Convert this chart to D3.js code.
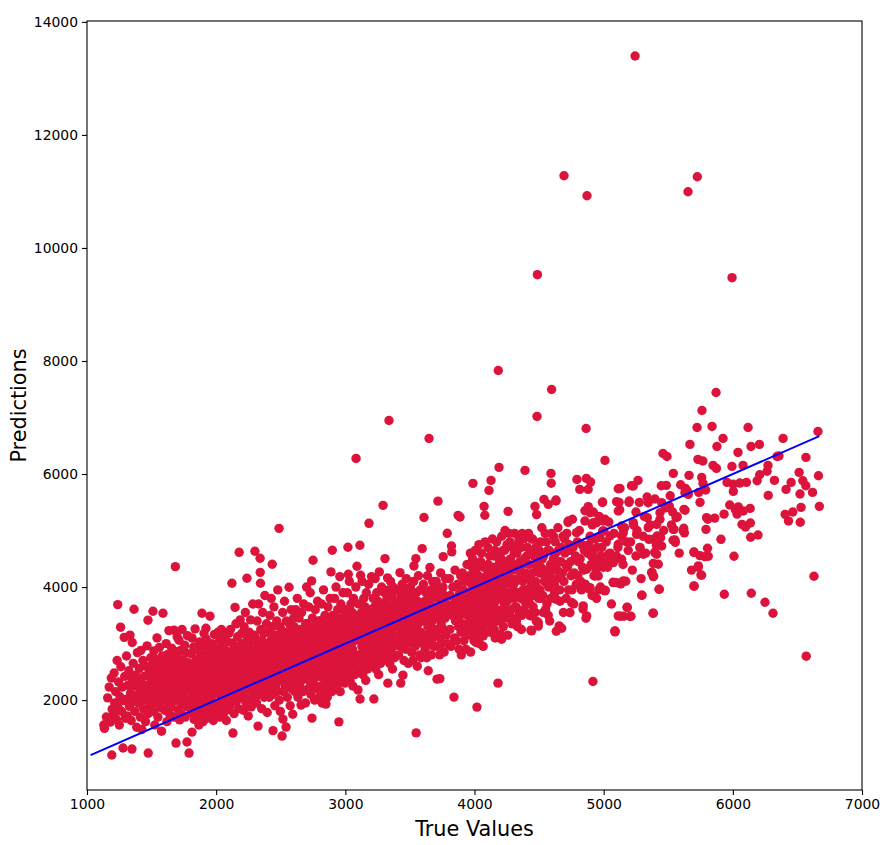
<!DOCTYPE html>
<html>
<head>
<meta charset="utf-8">
<script src="https://cdn.jsdelivr.net/npm/d3@7"></script>
<style>
  html, body { margin: 0; padding: 0; background: #fff; }
  svg { display: block; }
</style>
</head>
<body>
<div id="chart"></div>
<script>
(function(){
'use strict';
/* globals d3 */

// [true value, prediction] pairs, grouped by true value range
var pts1100 = [
    [1130,1560],[1135,1500],[1150,1700],[1160,2040],[1172,2230],[1180,1610],[1188,2390],[1192,1028],[1195,1840],
    [1205,1750],[1210,2480],[1215,1950],[1222,2150],[1228,1660],[1233,2700],[1238,3690],[1240,1870],[1245,2320],
    [1250,1560],[1255,2060],[1260,3290],[1262,2590],[1268,1800],[1272,2230],[1279,1152],[1283,1990],[1288,3110],
    [1292,2420],[1297,1680],
    [1302,2010],[1306,2780],[1311,1720],[1316,2260],[1324,2520],[1329,1890],[1333,3150],[1337,2120],[1342,1640],
    [1346,2390],[1348,1134],[1350,3020],[1354,1970],[1358,2650],[1362,2250],[1364,3608],[1370,1800],[1375,2440],
    [1380,2080],[1385,1520],[1390,2840],[1396,2330],
    [1402,1940],[1405,2560],[1409,2180],[1413,1700],[1417,2880],[1421,2310],[1425,1480],[1429,2050],[1433,2700],
    [1437,1850],[1441,2420],[1445,2140],[1449,2140],[1453,1620],[1457,2600],[1461,2000],[1465,2960],[1469,2260],
    [1472,3414],[1473,1760],[1474,1063],[1481,2500],[1485,2090],[1489,1900],[1493,2750],[1497,2360]
];

var pts1500 = [
    [1501,2040],[1507,2620],[1511,3573],[1511,2230],[1514,1800],[1518,2870],[1521,2420],[1525,1560],[1528,2150],
    [1532,2720],[1535,1950],[1539,2500],[1542,3100],[1546,2300],[1549,1700],[1553,2640],[1556,2080],[1560,2930],
    [1563,2380],[1567,1870],[1570,2560],[1574,2200],[1577,1450],[1581,2780],[1584,2010],[1588,3537],[1591,2460],
    [1595,2150],
    [1601,1820],[1604,2690],[1607,2330],[1610,2050],[1613,3000],[1616,2480],[1619,1620],[1622,2210],[1625,2810],
    [1628,1950],[1631,2580],[1634,3230],[1637,2380],[1640,1750],[1643,2120],[1646,2740],[1649,2260],[1652,1880],
    [1655,2920],[1658,2520],[1664,2030],[1667,2650],[1670,2180],[1673,1700],[1674,3237],[1676,2430],[1684,4361],
    [1683,2860],[1686,1990],[1689,1240],[1690,2560],[1694,2290],[1698,3120],
    [1701,2100],[1704,2750],[1706,1830],[1709,2450],[1712,3060],[1714,2250],[1717,1650],[1720,2620],[1722,2000],
    [1725,2880],[1728,2370],[1730,1760],[1733,2540],[1736,3250],[1738,2150],[1741,1920],[1744,2700],[1746,2310],
    [1752,2480],[1754,2060],[1757,2970],[1760,1700],[1762,2600],[1765,2200],[1768,2830],[1773,2420],[1774,1258],
    [1776,1880],[1778,3140],[1781,2280],[1784,2660],[1787,2020],[1790,1063],[1795,2520],
    [1802,2180],[1805,2820],[1807,1780],[1810,2450],[1813,1434],[1813,3100],[1815,2300],[1818,1950],[1821,2640],
    [1823,2080],[1826,2940],[1829,1660],[1831,2530],[1834,2230],[1837,3260],[1839,2380],[1842,1870],[1845,2720],
    [1847,2130],[1850,2580],[1853,1720],[1855,2890],[1858,2340],[1861,2010],[1863,2670],[1866,1560],[1869,2470],
    [1871,3030],[1874,2200],[1877,1920],[1879,2780],[1882,2400],[1890,3537],[1887,2100],[1890,2620],[1893,1820],
    [1895,2950],[1897,2270],[1899,1620],
    [1901,2550],[1903,2050],[1906,3180],[1908,2320],[1911,1750],[1913,2800],[1916,2180],[1918,2650],[1921,3272],
    [1921,1920],[1923,3080],[1926,2420],[1928,1680],[1931,2720],[1933,2260],[1936,2950],[1938,2040],[1941,2500],
    [1943,1820],[1946,2880],[1948,2370],[1952,3485],[1951,2610],[1956,2130],[1958,2860],[1961,1720],[1963,2460],
    [1966,2230],[1968,3000],[1971,1960],[1973,2580],[1976,2340],[1978,1640],[1981,2760],[1983,2100],[1986,3160],
    [1988,2480],[1991,1870],[1993,2680],[1996,2200],[1998,2900]
];

var pts2000 = [
    [2001,2350],[2004,2900],[2006,1800],[2009,2600],[2011,2150],[2014,3200],[2016,2450],[2019,1950],[2021,2750],
    [2024,2280],[2026,3050],[2029,1700],[2031,2520],[2034,2080],[2036,2850],[2039,2400],[2041,3250],[2044,1880],
    [2046,2680],[2049,2220],[2051,2960],[2054,2500],[2056,1760],[2059,2780],[2061,2130],[2064,3150],[2066,2340],
    [2069,2620],[2071,1990],[2074,2880],[2076,2460],[2079,1640],[2081,2720],[2084,2200],[2086,3030],[2089,2560],
    [2091,1830],[2094,2400],[2099,3184],[2099,2650],
    [2101,2280],[2103,2850],[2106,1900],[2108,2600],[2111,3250],[2113,2420],[2116,2050],[2118,2730],[2122,4067],
    [2124,2180],[2126,3010],[2128,2500],[2130,1417],[2133,2790],[2135,2340],[2138,1760],[2140,2920],[2143,2560],
    [2146,3640],[2148,2120],[2151,2680],[2153,3350],[2156,2410],[2158,1980],[2161,2840],[2163,2250],[2166,3120],
    [2168,2620],[2171,1850],[2173,2470],[2176,2960],[2178,4615],[2181,2200],[2183,2760],[2186,3420],[2188,2360],
    [2191,2040],[2193,2900],[2196,2530],[2198,3180],
    [2201,2450],[2203,3000],[2206,2080],[2208,2700],[2211,1820],[2213,2560],[2216,3300],[2218,2300],[2221,2850],
    [2223,2150],[2226,3550],[2228,2620],[2231,1950],[2233,2780],[2236,2400],[2238,4156],[2241,3080],[2243,2230],
    [2246,2680],[2248,1720],[2251,2950],[2253,2500],[2256,3200],[2258,2020],[2261,2740],[2263,2350],[2266,3420],
    [2268,2600],[2271,1880],[2273,2880],[2276,2180],[2278,3050],[2281,2520],[2283,3700],[2286,2280],[2288,2820],
    [2291,2070],[2293,2650],[2296,3150],[2298,2420],
    [2300,4633],[2302,2550],[2304,3100],[2307,2200],[2309,2800],[2312,1950],[2314,2650],[2317,3400],[2319,2400],
    [2322,2950],[2324,1540],[2326,2300],[2329,3700],[2331,2720],[2334,2100],[2336,2880],[2338,2500],[2340,4509],
    [2341,4260],[2343,4067],[2345,3250],[2347,2350],[2350,2780],[2352,1850],[2355,3050],[2357,2600],[2360,3550],
    [2362,2250],[2365,2900],[2367,2450],[2370,3180],[2372,2050],[2375,2700],[2377,3850],[2380,2380],[2382,2980],
    [2385,2150],[2387,2620],[2390,3350],[2392,2800],[2395,1780],[2398,2520],
    [2401,2650],[2403,3200],[2406,2300],[2408,2900],[2411,2050],[2413,2750],[2416,3500],[2418,2450],[2421,3050],
    [2423,2200],[2426,3800],[2428,2800],[2431,2550],[2434,4403],[2436,3300],[2438,2100],[2440,1460],[2442,2950],
    [2444,2650],[2447,3650],[2449,2350],[2452,2850],[2454,1900],[2457,3150],[2459,2700],[2462,2250],[2464,3000],
    [2467,2500],[2469,3400],[2472,2150],[2474,2800],[2477,3950],[2479,2400],[2482,3100],[2484,2600],[2487,5039],
    [2489,2000],[2491,2900],[2493,3300],[2495,2550],[2497,1800],[2499,2750]
];

var pts2500 = [
    [2501,2700],[2503,3250],[2506,2350],[2508,2950],[2510,1364],[2512,2600],[2515,3550],[2517,1664],[2519,2850],
    [2521,2150],[2524,3100],[2526,2500],[2529,3750],[2531,2750],[2534,2250],[2536,3000],[2539,2650],[2541,1523],
    [2543,3400],[2546,2400],[2548,2900],[2551,2050],[2553,3200],[2556,2800],[2558,2300],[2561,3050],[2564,3997],
    [2566,2550],[2568,3350],[2571,2700],[2573,1900],[2576,2950],[2578,2450],[2581,3600],[2583,2850],[2586,2200],
    [2588,3150],[2591,2600],[2593,1750],[2595,3000],[2597,2400],[2599,3450],
    [2601,2750],[2603,3300],[2606,2400],[2608,3000],[2611,2150],[2613,2650],[2616,3600],[2618,2900],[2621,2300],
    [2623,3150],[2626,2550],[2628,3800],[2631,2800],[2633,2050],[2636,3050],[2638,2450],[2641,3450],[2643,2700],
    [2646,2250],[2648,2950],[2651,3250],[2653,2600],[2657,1912],[2658,2850],[2661,3550],[2663,2350],[2666,3100],
    [2668,2750],[2671,2150],[2673,3000],[2676,2500],[2678,3700],[2681,2900],[2683,2400],[2686,3200],[2688,2650],
    [2691,1950],[2693,3350],[2695,2800],[2697,2550],[2699,3050],[2700,4000],
    [2701,2800],[2703,3350],[2706,2450],[2708,3050],[2711,2200],[2713,2700],[2716,3650],[2718,2950],[2721,2350],
    [2723,3200],[2726,2600],[2728,3900],[2731,2850],[2733,2100],[2736,3100],[2739,4109],[2742,1682],[2742,2500],
    [2745,3450],[2747,2750],[2750,4474],[2752,2300],[2755,3000],[2757,3300],[2760,2650],[2762,2000],[2765,2900],
    [2767,3600],[2770,2400],[2772,3150],[2775,2800],[2777,2200],[2780,3050],[2782,2550],[2785,3750],[2787,2950],
    [2790,2450],[2792,3250],[2795,2700],[2797,2050],[2799,3400],[2798,2850],
    [2801,2850],[2803,3400],[2806,2500],[2808,3100],[2811,2250],[2813,2750],[2816,3700],[2818,3000],[2821,1947],
    [2823,2400],[2826,3250],[2828,2650],[2831,3950],[2833,2900],[2836,2150],[2838,3150],[2841,2550],[2843,3500],
    [2846,2800],[2848,2350],[2850,1930],[2852,3050],[2855,3350],[2857,2700],[2860,2050],[2862,2950],[2865,3650],
    [2867,2450],[2870,3200],[2872,2850],[2875,2250],[2877,3100],[2880,2600],[2882,3800],[2885,3000],[2887,2500],
    [2889,4268],[2891,3300],[2893,2750],[2895,2150],[2897,3450],[2899,4651],
    [2901,2950],[2903,3500],[2906,2600],[2908,3200],[2911,2350],[2913,2850],[2916,3800],[2918,3100],[2921,2500],
    [2923,3350],[2926,2750],[2928,4000],[2931,3000],[2933,2250],[2936,3250],[2938,2650],[2941,3600],[2943,2900],
    [2946,2450],[2948,3150],[2950,1615],[2952,3450],[2955,2800],[2957,4185],[2960,2150],[2962,3050],[2965,3700],
    [2967,2550],[2970,3300],[2972,2950],[2975,2350],[2977,3200],[2980,2700],[2982,3900],[2985,3100],[2987,2600],
    [2990,3400],[2992,2850],[2995,2300],[2998,3550]
];

var pts3000 = [
    [3001,3050],[3003,3600],[3006,2700],[3008,3300],[3011,2450],[3013,2950],[3016,3900],[3018,3200],[3020,4704],
    [3022,2600],[3023,4227],[3026,3450],[3028,2850],[3031,4100],[3033,3100],[3036,2350],[3038,3350],[3041,2750],
    [3043,3700],[3046,3000],[3048,2550],[3051,3250],[3053,3550],[3056,2900],[3058,2250],[3061,3150],[3063,3800],
    [3066,2650],[3068,3400],[3071,3050],[3073,2450],[3076,3300],[3078,2800],[3081,4000],[3083,6276],[3086,3200],
    [3088,2700],[3090,4368],[3094,3500],[3098,2180],
    [3101,3150],[3103,3700],[3106,2800],[3108,3400],[3111,2550],[3113,4739],[3114,2020],[3116,3050],[3118,4209],
    [3120,3300],[3123,2700],[3125,3550],[3128,2950],[3130,4100],[3133,3200],[3135,2450],[3138,3450],[3140,2850],
    [3143,3800],[3145,3100],[3148,2650],[3150,3350],[3153,3650],[3155,3000],[3158,2350],[3160,3250],[3163,3900],
    [3165,2750],[3168,3500],[3170,3150],[3173,2550],[3175,3400],[3178,2900],[3180,4050],[3183,5128],[3186,3300],
    [3188,2800],[3190,3600],[3193,3050],[3197,2650],
    [3201,3250],[3203,4185],[3206,2900],[3208,3500],[3211,2650],[3213,3150],[3216,3800],[3218,3400],[3221,2020],
    [3223,2800],[3226,3650],[3228,3050],[3231,4150],[3233,3300],[3236,2550],[3238,3550],[3241,2950],[3243,3900],
    [3246,3200],[3248,2750],[3251,3450],[3253,3750],[3256,3100],[3258,2450],[3261,3350],[3263,4268],[3266,2850],
    [3268,3600],[3271,3250],[3273,2650],[3276,3500],[3278,3000],[3281,4000],[3283,3400],[3286,2900],[3290,3700],
    [3292,5446],[3296,3150],
    [3301,3350],[3303,3900],[3306,3000],[3307,4504],[3309,3600],[3311,2750],[3314,3250],[3316,3700],[3318,3450],
    [3321,2900],[3323,3800],[3326,3150],[3327,4162],[3329,2300],[3331,3550],[3333,3000],[3336,3950],[3338,6948],
    [3340,3350],[3343,2650],[3345,3650],[3348,3100],[3350,4100],[3353,3300],[3355,2850],[3358,3500],[3360,3850],
    [3363,3200],[3365,2550],[3368,3450],[3370,4000],[3373,2950],[3375,3600],[3378,3300],[3381,2750],[3385,3750],
    [3390,3100],[3396,3500],
    [3401,3400],[3404,3950],[3407,3050],[3409,3650],[3412,2800],[3415,3300],[3418,3750],[3420,3500],[3423,4256],
    [3426,2950],[3429,2300],[3431,3850],[3434,3200],[3437,3600],[3440,4050],[3443,3400],[3446,2442],[3448,3700],
    [3451,3100],[3454,2700],[3457,3550],[3460,3900],[3463,3300],[3466,2900],[3469,3650],[3472,4150],[3475,3000],
    [3478,3450],[3481,3800],[3484,3250],[3487,2650],[3490,3550],[3493,3950],[3496,3150],[3499,3700]
];

var pts3500 = [
    [3501,3450],[3504,4000],[3507,3100],[3509,3700],[3512,2850],[3515,3350],[3518,3800],[3520,3550],[3523,2700],
    [3526,3000],[3529,4100],[3531,4374],[3534,3250],[3537,3650],[3540,2950],[3543,3450],[3546,4504],[3548,1420],
    [3551,3900],[3554,3150],[3557,2600],[3560,3750],[3563,3350],[3566,4200],[3569,3050],[3572,3600],[3575,2800],
    [3578,3500],[3581,3950],[3584,3200],[3587,2750],[3590,3700],[3593,3400],[3595,4680],[3598,3000],
    [3601,3500],[3605,4050],[3609,5230],[3612,3150],[3615,3750],[3618,2900],[3621,3400],[3624,3900],[3627,3600],
    [3630,2750],[3633,3050],[3636,4200],[3639,3300],[3642,2520],[3645,3700],[3648,6629],[3651,3000],[3655,4345],
    [3658,3500],[3661,3950],[3664,3200],[3667,2800],[3670,3800],[3673,3400],[3676,4100],[3679,3100],[3682,3650],
    [3685,2950],[3688,3550],[3691,4000],[3694,3250],[3698,3850],
    [3701,3550],[3704,4100],[3707,3200],[3710,2371],[3713,3800],[3716,2950],[3717,5520],[3720,3450],[3723,3950],
    [3727,3650],[3730,2800],[3732,2380],[3735,3100],[3738,4250],[3742,3350],[3745,3750],[3749,3000],[3752,3550],
    [3756,4000],[3758,4539],[3762,3250],[3765,2850],[3769,3850],[3772,3450],[3776,4150],[3780,3150],[3784,3700],
    [3789,4951],[3793,3000],[3797,3600],
    [3802,3600],[3806,4150],[3810,3250],[3814,3850],[3818,2950],[3822,4727],[3824,4622],[3828,3500],[3832,4000],
    [3836,3700],[3841,2053],[3845,3100],[3849,4300],[3853,3400],[3857,3800],[3861,3050],[3865,3600],[3869,4050],
    [3873,5269],[3877,3300],[3881,2900],[3885,3900],[3888,5240],[3889,3500],[3893,4200],[3896,3200],[3899,3750],
    [3898,2800],
    [3902,3700],[3906,4250],[3910,3350],[3914,3950],[3918,3050],[3922,3600],[3926,4100],[3930,3800],[3934,2900],
    [3938,3250],[3942,4400],[3946,3500],[3950,3900],[3954,3150],[3958,3700],[3962,4200],[3966,3400],[3970,2850],
    [3974,3850],[3978,3550],[3982,4350],[3986,3250],[3988,5834],[3992,3750],[3996,3050],[3999,4050],
    [3965,3314],[3968,4600],[3972,3300],[3976,4050],[3981,3650],[3985,4500],[3991,3900],[3995,3450]
];

var pts4000 = [
    [4003,3800],[4007,4300],[4011,3400],[4015,4000],[4019,1876],[4023,3150],[4027,3650],[4031,4200],[4035,3900],
    [4039,3000],[4043,3500],[4047,4450],[4051,3700],[4055,3300],[4059,4050],[4063,3600],[4067,2950],[4071,4150],
    [4074,5428],[4078,3850],[4080,5270],[4085,3400],[4090,4350],[4096,3750],
    [4102,3900],[4106,4400],[4110,3500],[4112,5710],[4115,4100],[4120,3200],[4124,3750],[4128,5887],[4132,4300],
    [4137,3950],[4141,3350],[4146,3650],[4150,4550],[4155,3850],[4160,3100],[4164,4200],[4169,3600],[4173,4000],
    [4178,3400],[4182,2300],[4184,7831],[4190,6117],[4194,4450],[4198,3800],
    [4203,4000],[4208,4500],[4213,3600],[4218,4200],[4223,3300],[4228,3850],[4233,4650],[4238,4050],[4243,3450],
    [4248,4300],[4253,3750],[4258,3150],[4260,5340],[4265,4100],[4270,3550],[4275,4800],[4280,3900],[4285,4400],
    [4290,3350],[4296,4000],
    [4303,4050],[4308,4600],[4314,3650],[4319,4300],[4325,3400],[4330,3900],[4336,4750],[4341,4150],[4347,3550],
    [4352,4450],[4358,3800],[4363,3250],[4369,4950],[4374,4100],[4380,3600],[4385,4500],[4391,6064],[4396,3950],
    [4403,4150],[4409,4700],[4415,3750],[4421,4400],[4428,3500],[4434,4000],[4437,3237],[4442,4850],[4448,4250],
    [4454,3650],[4460,4550],[4466,3900],[4468,5428],[4472,4100],[4478,3400],[4481,5282],[4484,7019],[4487,9527],
    [4491,4650],[4494,3310],[4497,4300]
];

// the thick part of the cloud between 4000 and 4600
var pts4000dense = [
    [4005,4650],[4009,3550],[4011,3019],[4013,4150],[4018,3850],[4024,4400],[4029,3300],[4034,4750],[4038,3750],
    [4044,4100],[4049,3450],[4054,4600],[4058,3950],[4064,3250],[4068,3137],[4069,4350],[4076,3700],[4082,4800],
    [4087,3550],[4093,4200],[4098,3900],
    [4104,4700],[4108,3350],[4113,4000],[4118,4550],[4122,3600],[4127,4250],[4133,3450],[4139,4850],[4144,3900],
    [4148,4350],[4153,3250],[4158,4650],[4163,3750],[4167,4100],[4172,4800],[4176,3500],[4180,4300],[4186,3950],
    [4192,4600],[4197,3550],
    [4201,4350],[4202,3166],[4206,3800],[4210,3078],[4211,4900],[4216,3450],[4221,4650],[4226,4100],[4231,3700],
    [4236,5000],[4241,4400],[4246,3900],[4251,4750],[4256,3550],[4262,4250],[4267,4950],[4272,3800],[4278,4500],
    [4283,3600],[4288,4150],[4293,4700],[4298,3450],
    [4302,4400],[4306,3800],[4311,4950],[4317,4100],[4322,3650],[4328,4600],[4333,3300],[4339,4300],[4344,4850],
    [4350,3900],[4355,4150],[4361,4700],[4366,3500],[4371,4400],[4377,3950],[4382,4850],[4388,3750],[4393,4250],
    [4398,3550],
    [4405,4550],[4411,3900],[4418,4950],[4424,4200],[4430,3700],[4435,3490],[4436,4650],[4442,3225],[4444,4050],
    [4450,4850],[4457,3850],[4463,4400],[4469,3550],[4475,4700],[4480,4000],[4489,4500],[4494,3373],[4496,3800],
    [4502,4650],[4507,3950],[4514,4350],[4521,5050],[4528,3850],[4535,4550],[4543,4200],[4550,3600],[4557,4800],
    [4564,4050],[4571,5463],[4571,3500],[4578,4650],[4585,4250],[4591,3800],[4596,4950]
];

var pts4500 = [
    [4504,4250],[4511,4800],[4518,3800],[4525,4500],[4532,3550],[4538,5552],[4540,4100],[4547,4950],[4554,4300],
    [4561,3700],[4568,4650],[4575,4000],[4582,3400],[4589,4400],[4592,6011],[4594,5836],[4597,7495],[4598,4150],
    [4604,4350],[4612,4900],[4620,3900],[4628,4600],[4630,5540],[4633,3219],[4638,4150],[4646,5050],[4654,4450],
    [4662,3750],[4670,4700],[4675,3272],[4680,4250],[4688,3550],[4693,11277],[4697,4850],
    [4705,4400],[4715,4950],[4724,5145],[4728,3950],[4738,4650],[4748,4200],[4758,5200],[4768,3700],[4778,4500],
    [4788,4050],[4793,5905],[4796,4800],
    [4805,4450],[4812,5000],[4815,5728],[4822,4100],[4832,4750],[4840,3613],[4845,4300],[4855,5350],[4863,3449],
    [4864,6806],[4866,5923],[4871,10923],[4875,4600],[4880,5728],[4888,3967],[4895,4900],
    [4905,4550],[4912,5100],[4917,2330],[4925,4200],[4935,4850],[4945,3800],[4955,4400],[4965,5250],[4975,4000],
    [4985,4700],[4990,5499],[4996,4350]
];

// the looser part of the cloud between 4600 and 5800
var pts4600dense = [
    [4610,4500],[4618,4050],[4625,4800],[4631,5522],[4631,3785],[4642,4300],[4650,4650],[4656,3314],[4660,3950],
    [4668,4450],[4685,4900],[4692,4100],[4700,4600],[4710,3800],[4720,4350],[4726,5169],[4733,4750],[4739,3549],
    [4745,4450],[4752,3726],[4755,3950],[4763,4700],[4772,4250],[4783,4550],[4790,4963],[4800,4200],[4818,4500],
    [4828,3950],[4836,4350],[4842,4727],[4842,3667],[4850,4650],[4855,5169],[4858,4050],[4868,4315],[4868,3490],
    [4881,5422],[4881,3991],[4885,4750],[4894,5316],[4894,4610],[4894,3991],[4899,5858],
    [4902,4400],[4910,3850],[4920,5328],[4920,5140],[4922,4650],[4933,4492],[4933,4197],[4940,4300],[4945,5140],
    [4946,4492],[4950,4700],[4958,4197],[4962,3950],[4971,4874],[4978,4550],[4992,5505],[4992,4992],[4997,5169]
];

var pts5000dense = [
    [5002,4992],[5010,5199],[5010,4433],[5010,3932],[5036,4580],[5049,4904],[5049,4551],[5075,4433],[5075,4079],
    [5087,3225],[5088,4521],[5088,3208],[5100,4550],[5100,4079],[5100,5511],[5113,5346],[5113,5740],[5113,4757],
    [5113,3490],[5139,5081],[5139,4492],[5152,4963],[5152,4109],[5178,4798],[5183,3638],[5198,5522],[5204,3479],
    [5229,5788],[5229,5140],[5250,5328],[5255,4933],[5281,4698],[5294,3856],[5307,4580],[5338,5228],[5345,5493],
    [5345,5051],[5371,4256],[5384,4845],[5384,4186],[5384,3538],[5410,5110],[5410,4580],[5423,4403],[5431,3962],
    [5436,5316],[5441,4874],[5449,5493],[5449,4727],[5508,5434],[5534,5328],[5539,5022],[5552,4833],[5560,5228],
    [5616,4992],[5622,5375],[5629,5670],[5655,5640],[5699,4621],[5699,4020],[5733,4374],[5758,4209],[5784,4539],
    [5797,5228]
];

var pts5000 = [
    [5010,6241],[5012,3944],[5020,4800],[5030,4350],[5040,5150],[5050,4600],[5060,3700],[5073,4085],[5080,4950],
    [5088,3219],[5095,4500],
    [5110,4700],[5119,5499],[5124,5368],[5126,5746],[5128,3484],[5132,4056],[5140,4900],[5150,4400],[5155,3484],
    [5162,5050],[5171,4103],[5181,3643],[5190,4650],[5196,5499],
    [5208,4800],[5212,3484],[5215,5793],[5222,4300],[5232,5100],[5243,13397],[5250,4550],[5258,5000],[5266,5887],
    [5276,5499],[5280,4700],[5290,4150],[5297,3855],
    [5305,4900],[5315,5250],[5325,4600],[5336,5594],[5350,4845],[5360,5100],[5374,4262],[5382,3537],[5384,4420],
    [5387,4191],[5395,4615],[5397,5558],
    [5408,4740],[5415,4905],[5428,3961],[5436,5200],[5446,5793],[5459,6364],[5465,5000],[5475,5400],[5485,5800],
    [5490,6310]
];

var pts5500 = [
    [5515,5616],[5525,5100],[5537,4828],[5539,6011],[5545,5021],[5555,4792],[5570,5243],[5585,4600],[5596,5811],
    [5620,5040],[5625,4960],[5630,5360],[5633,5746],[5648,5700],[5653,10994],[5661,5976],[5668,6524],[5680,4300],
    [5699,4615],[5700,4014],
    [5723,6824],[5725,11259],[5730,6258],[5732,4350],[5736,5676],[5745,4557],[5746,5499],[5753,4215],[5759,5940],
    [5761,7124],[5768,6230],[5769,5835],[5790,5717],[5792,5021],
    [5804,4686],[5806,5200],[5810,4545],[5839,6842],[5847,6153],[5860,5220],[5870,7442],[5873,6100],[5877,6488],
    [5908,4845],[5924,6630],[5932,5290],[5934,3873],[5955,5852],[5976,5452],[5993,6135],[5994,9474]
];

var pts6000 = [
    [6002,5822],[6004,5693],[6009,4545],[6020,5370],[6033,5290],[6040,6382],[6042,5418],[6054,5840],[6071,5110],
    [6079,6153],[6081,5346],[6098,5064],
    [6105,5852],[6118,6824],[6134,5392],[6136,5134],[6138,4881],[6141,6488],[6143,3890],[6188,5882],[6195,4922],
    [6206,6524],[6208,5988],[6249,3731],[6265,6050],[6272,6153],[6274,5622],
    [6311,3537],[6322,5887],[6342,6311],[6357,6320],[6389,6630],
    [6405,5287],[6412,5728],[6431,5170],[6451,5852],[6464,5328],
    [6513,6029],[6520,5646],[6528,5410],[6522,5146],[6542,5882],[6565,5793],[6566,6294],[6568,2777],[6617,5675],
    [6628,4191],[6663,5970],[6659,6753],[6670,5428]
];

// reference line y = x, from the smallest prediction to the largest true value
var fitLine = [1028, 6670];

var xTicks = [1000, 2000, 3000, 4000, 5000, 6000, 7000];
var yTicks = [2000, 4000, 6000, 8000, 10000, 12000, 14000];

var width = 892, height = 845;
var margin = {top: 21, right: 30, bottom: 55, left: 87};
var font = 'DejaVu Sans, sans-serif';

var points = d3.merge([pts1100, pts1500, pts2000, pts2500, pts3000, pts3500,
                       pts4000, pts4000dense, pts4500, pts4600dense, pts5000dense,
                       pts5000, pts5500, pts6000]);

var svg = d3.select('#chart').append('svg')
    .attr('width', width)
    .attr('height', height);

var x = d3.scaleLinear()
    .domain([1000, 7000])
    .range([margin.left, width - margin.right]);

// matplotlib style 5% padding around data (incl. the line)
var yMin = Math.min(d3.min(points, function(d){ return d[1]; }), fitLine[0]);
var yMax = d3.max(points, function(d){ return d[1]; });
var pad = (yMax - yMin) * 0.05;
var y = d3.scaleLinear()
    .domain([yMin - pad, yMax + pad])
    .range([height - margin.bottom, margin.top]);

var plot = svg.append('g');

plot.selectAll('circle')
    .data(points)
  .enter().append('circle')
    .attr('cx', function(d){ return x(d[0]); })
    .attr('cy', function(d){ return y(d[1]); })
    .attr('r', 4.7)
    .attr('fill', '#dc143c');

plot.append('line')
    .attr('x1', x(fitLine[0]))
    .attr('y1', y(fitLine[0]))
    .attr('x2', x(fitLine[1]))
    .attr('y2', y(fitLine[1]))
    .attr('stroke', '#0000ff')
    .attr('stroke-width', 2);

// axes
var xAxis = d3.axisBottom(x)
    .tickValues(xTicks)
    .tickSize(5)
    .tickPadding(4)
    .tickFormat(d3.format('d'));
var yAxis = d3.axisLeft(y)
    .tickValues(yTicks)
    .tickSize(5)
    .tickPadding(4)
    .tickFormat(d3.format('d'));

var gx = svg.append('g')
    .attr('transform', 'translate(0,' + (height - margin.bottom) + ')')
    .call(xAxis);
var gy = svg.append('g')
    .attr('transform', 'translate(' + margin.left + ',0)')
    .call(yAxis);

[gx, gy].forEach(function(g){
    g.select('.domain').remove();
    g.selectAll('line').attr('stroke', '#000').attr('stroke-width', 1.1);
    g.selectAll('text')
        .attr('font-family', font)
        .attr('font-size', '13.9px')
        .attr('fill', '#000');
});

// frame
svg.append('rect')
    .attr('x', margin.left)
    .attr('y', margin.top)
    .attr('width', width - margin.left - margin.right)
    .attr('height', height - margin.top - margin.bottom)
    .attr('fill', 'none')
    .attr('stroke', '#000')
    .attr('stroke-width', 1.1);

svg.append('text')
    .attr('x', (margin.left + width - margin.right) / 2)
    .attr('y', 836)
    .attr('text-anchor', 'middle')
    .attr('font-family', font)
    .attr('font-size', '20.8px')
    .text('True Values');

svg.append('text')
    .attr('transform', 'translate(26,' + ((margin.top + height - margin.bottom) / 2) + ') rotate(-90)')
    .attr('text-anchor', 'middle')
    .attr('font-family', font)
    .attr('font-size', '20.8px')
    .text('Predictions');

})();
</script>
</body>
</html>
